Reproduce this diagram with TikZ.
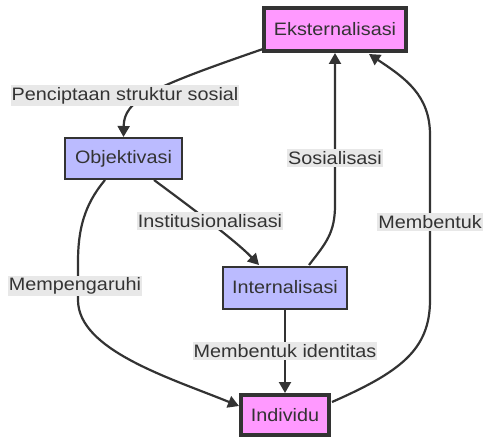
\documentclass[tikz,border=0pt]{standalone}
\usepackage{fontspec}
\setmainfont{Liberation Sans}[FakeStretch=1.1]
\usetikzlibrary{arrows.meta}
\definecolor{ink}{HTML}{333333}
\definecolor{pinkfill}{HTML}{FF99FF}
\definecolor{bluefill}{HTML}{BBBBFF}
\definecolor{lblbg}{HTML}{E8E8E8}
\tikzset{
  x=1pt, y=-1pt,
  every node/.style={font=\fontsize{18}{21}\selectfont, text=ink},
  box/.style={draw=ink, rectangle, inner sep=0pt, align=center},
  keybox/.style={box, fill=pinkfill, line width=4pt},
  stagebox/.style={box, fill=bluefill, line width=2pt},
  lbl/.style={fill=lblbg, inner xsep=1pt, inner ysep=2pt},
  arr/.style={draw=ink, line width=2.2pt, -{Triangle[length=11pt,width=12pt]}},
}
\begin{document}
\begin{tikzpicture}
\useasboundingbox (0,0) rectangle (484,438);

% stages
\node[keybox, minimum width=142pt, minimum height=43pt] (E) at (335,29.5) {Eksternalisasi};
\node[stagebox, minimum width=117pt, minimum height=41pt] (O) at (123.5,158.5) {Objektivasi};
\node[stagebox, minimum width=124pt, minimum height=42pt] (I) at (285,287.5) {Internalisasi};
\node[keybox, minimum width=88pt, minimum height=40pt] (D) at (285,415) {Individu};

% anchor points on the box borders
\coordinate (eL) at (263,49);
\coordinate (eB) at (335,53);
\coordinate (eR) at (369,54);
\coordinate (oL) at (105,180);
\coordinate (oR) at (154,180);
\coordinate (iT) at (259,265);
\coordinate (iS) at (309,265);
\coordinate (iB) at (285,309);
\coordinate (dT) at (285,393);
\coordinate (dL) at (239,406);
\coordinate (dR) at (332,402);

% connectors
\draw[arr] (eL) .. controls (150,88) and (124,100) .. (O.north);
\draw[arr] (oR) .. controls (185,203) and (235,240) .. (iT);
\draw[arr] (oL) .. controls (84,205) and (78,230) .. (78,262) -- (78,300)
           .. controls (78,350) and (170,378) .. (dL);
\draw[arr] (iB) -- (dT);
\draw[arr] (iS) .. controls (326,243) and (335,233) .. (335,205) -- (eB);
\draw[arr] (dR) .. controls (400,372) and (430,350) .. (430,300) -- (430,135)
           .. controls (430,95) and (405,78) .. (eR);

% connector labels
\node[lbl] (l1) at (125,95.5) {Penciptaan struktur sosial};
\node[lbl] (l2) at (210,221) {Institusionalisasi};
\node[lbl] (l3) at (75,286) {Mempengaruhi};
\node[lbl] (l4) at (285,351) {Membentuk identitas};
\node[lbl] (l5) at (335,158) {Sosialisasi};
\node[lbl] (l6) at (430,222) {Membentuk};
\end{tikzpicture}
\end{document}
